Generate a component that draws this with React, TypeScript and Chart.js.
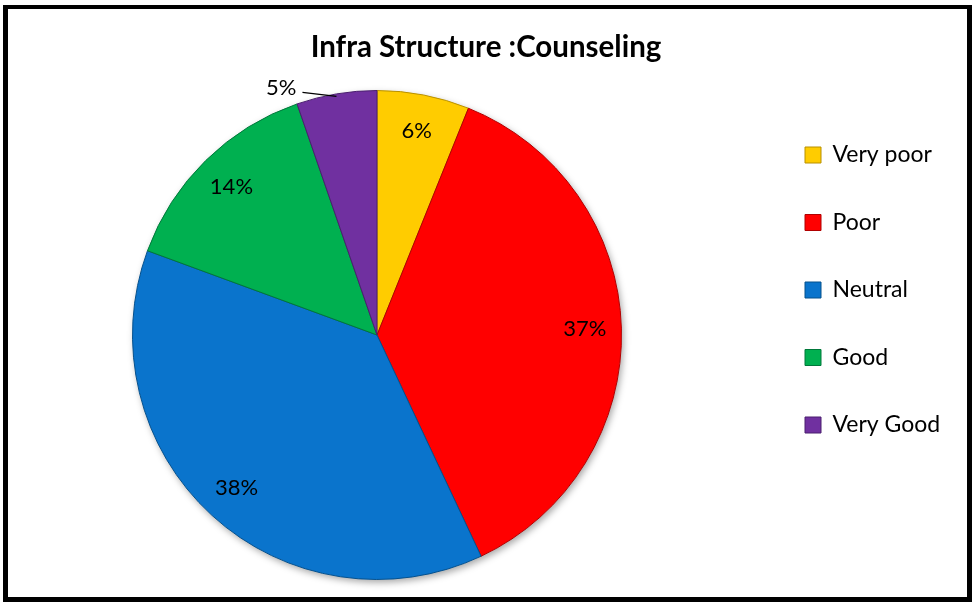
import React, { useEffect, useRef } from "react";
import { Chart, registerables } from "chart.js";

Chart.register(...registerables);

// ---- data ----
const TITLE = "Infra Structure :Counseling";
const categories = ["Very poor", "Poor", "Neutral", "Good", "Very Good"];
const shares = [6.1, 36.9, 37.6, 14.1, 5.3];
const sliceColors = ["#FFCC00", "#FF0000", "#0A74CC", "#00B050", "#7030A0"];
const edgeColors = ["#B89000", "#B00000", "#05508C", "#00783A", "#4A1F6E"];

// ---- layout constants ----
const FONT = "Lato, 'Open Sans', sans-serif";
const PIE_CX = 377;
const PIE_CY = 335;
const PIE_R = 245;
const LEGEND_X = 805;
const LEGEND_Y = 143.5;

const placement = {
  id: "placement",
  afterLayout(chart: any) {
    const ca = chart.chartArea;
    ca.left = PIE_CX - PIE_R;
    ca.right = PIE_CX + PIE_R;
    ca.top = PIE_CY - PIE_R;
    ca.bottom = PIE_CY + PIE_R;
    ca.width = 2 * PIE_R;
    ca.height = 2 * PIE_R;
    const lg = chart.legend;
    if (lg) {
      const pad = lg.options.labels.padding;
      const w = lg.width;
      const h = lg.height;
      lg.left = LEGEND_X - pad;
      lg.right = lg.left + w;
      lg.top = LEGEND_Y - pad;
      lg.bottom = lg.top + h;
    }
  },
};

const pieShadow = {
  id: "pieShadow",
  beforeDatasetsDraw(chart: any) {
    const meta = chart.getDatasetMeta(0);
    const el = meta.data[0];
    if (!el) return;
    const { x, y, outerRadius } = el.getProps(["x", "y", "outerRadius"], true);
    const ctx = chart.ctx;
    ctx.save();
    ctx.shadowColor = "rgba(0,0,0,0.35)";
    ctx.shadowBlur = 7;
    ctx.shadowOffsetX = 2;
    ctx.shadowOffsetY = 3;
    ctx.beginPath();
    ctx.arc(x, y, outerRadius, 0, Math.PI * 2);
    ctx.fillStyle = "#ffffff";
    ctx.fill();
    ctx.restore();
  },
};

const pctLabels = {
  id: "pctLabels",
  afterDatasetsDraw(chart: any) {
    const ctx = chart.ctx;
    const meta = chart.getDatasetMeta(0);
    const data = chart.data.datasets[0].data as number[];
    const total = data.reduce((a, b) => a + b, 0);
    ctx.save();
    ctx.font = `22px ${FONT}`;
    ctx.fillStyle = "#000";
    ctx.strokeStyle = "#000";
    ctx.textBaseline = "middle";
    meta.data.forEach((el: any, i: number) => {
      const { x, y, startAngle, endAngle, outerRadius } = el.getProps(
        ["x", "y", "startAngle", "endAngle", "outerRadius"],
        true
      );
      const mid = (startAngle + endAngle) / 2;
      const pct = Math.round((data[i] / total) * 100);
      const txt = pct + "%";
      if (pct >= 6) {
        ctx.textAlign = "center";
        ctx.fillText(
          txt,
          x + Math.cos(mid) * outerRadius * 0.85,
          y + Math.sin(mid) * outerRadius * 0.85
        );
      } else {
        const ex = x + Math.cos(mid) * outerRadius;
        const ey = y + Math.sin(mid) * outerRadius;
        ctx.lineWidth = 1.3;
        ctx.beginPath();
        ctx.moveTo(ex, ey + 2.5);
        ctx.lineTo(ex - 34, ey - 1.5);
        ctx.stroke();
        ctx.textAlign = "right";
        ctx.fillText(txt, ex - 40, ey - 6);
      }
    });
    ctx.restore();
  },
};

export default function App() {
  const ref = useRef<HTMLCanvasElement>(null);

  useEffect(() => {
    const chart = new Chart(ref.current!, {
      type: "pie",
      data: {
        labels: categories,
        datasets: [
          {
            data: shares,
            backgroundColor: sliceColors,
            borderColor: edgeColors,
            borderWidth: 1,
            clip: false,
          } as any,
        ],
      },
      options: {
        responsive: false,
        animation: false,
        devicePixelRatio: 1,
        events: [],
        layout: { padding: 0 },
        plugins: {
          title: {
            display: true,
            text: TITLE,
            color: "#000",
            font: { family: FONT, size: 29.5, weight: "bold" },
            padding: { top: 30, bottom: 20 },
          },
          legend: {
            display: true,
            position: "right",
            align: "start",
            labels: {
              color: "#000",
              font: { family: FONT, size: 23 },
              boxWidth: 16,
              boxHeight: 16,
              padding: 44.5,
            },
          },
          tooltip: { enabled: false },
        },
      } as any,
      plugins: [placement, pieShadow, pctLabels],
    });
    return () => chart.destroy();
  }, []);

  return (
    <div
      style={{
        position: "fixed",
        left: 0,
        top: 0,
        width: 972,
        height: 602,
        background: "#fff",
        overflow: "hidden",
      }}
    >
      <canvas
        ref={ref}
        width={972}
        height={602}
        style={{ display: "block", position: "absolute", left: 0, top: 0 }}
      />
      <div
        style={{
          position: "absolute",
          left: 3,
          top: 5,
          width: 969,
          height: 597,
          boxSizing: "border-box",
          border: "5px solid #000",
          borderTopWidth: 4,
          pointerEvents: "none",
        }}
      />
    </div>
  );
}
